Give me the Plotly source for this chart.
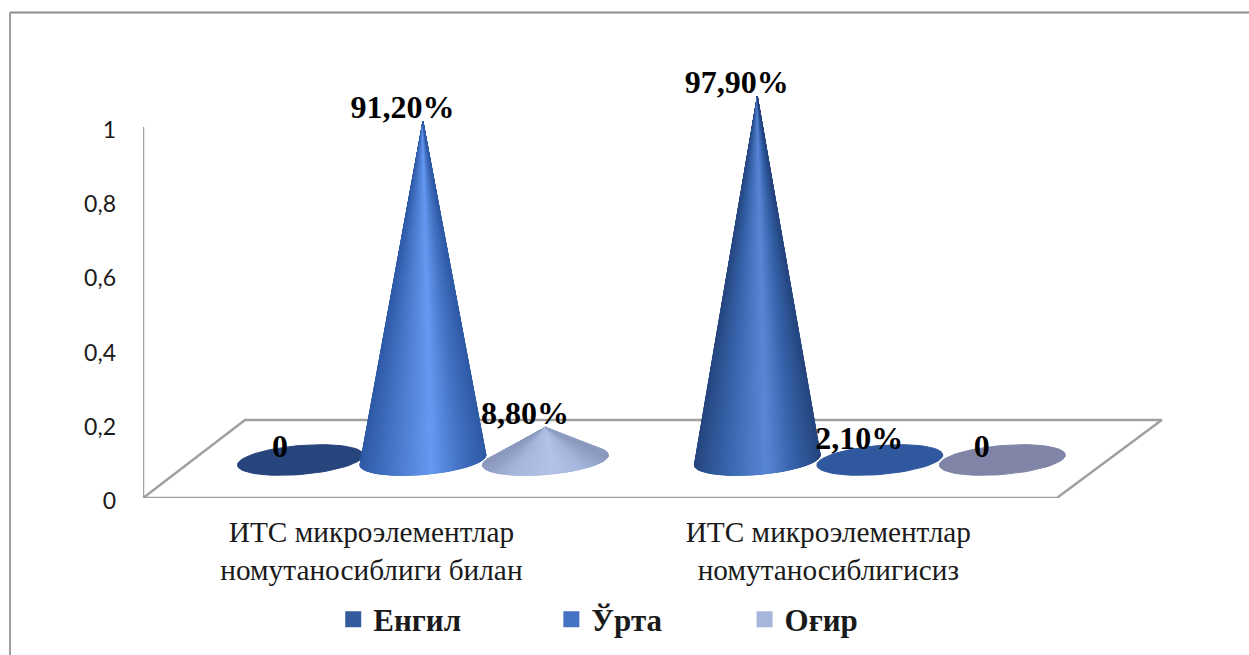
import math
import plotly.graph_objs as go

# Data
categories = ['ИТС микроэлементлар<br>номутаносиблиги билан',
              'ИТС микроэлементлар<br>номутаносиблигисиз']
series_names = ['Енгил', 'Ўрта', 'Оғир']
engil = [0, 0.979]
urta = [0.912, 0.021]
ogir = [0.088, 0]
label_engil = ['0', '97,90%']
label_urta = ['91,20%', '2,10%']
label_ogir = ['8,80%', '0']
y_ticks = [0, 0.2, 0.4, 0.6, 0.8, 1]
y_tick_labels = ['0', '0,2', '0,4', '0,6', '0,8', '1']

# Styles: edge, body, highlight of a cone / flat disc colour / legend colour
shades = [('#25467f', '#3561a8', '#5a86d6'),
          ('#2f5aa6', '#4472c4', '#6699f2'),
          ('#8b99bd', '#a5b5dc', '#b4c2e6')]
flat_colors = ['#27457c', '#30589f', '#8085a8']
legend_colors = ['#335b9e', '#4472c4', '#a6b5db']
legend_padding = [11, 10, 0]  # no-break spaces that space the legend entries out
GREY = '#a0a0a0'
SERIF = 'Liberation Serif'

# Pixel layout of the plot area
LEFT, RIGHT, TOP, BOTTOM = 143, 1171, 53, 498
W, H = 1249, 655
X_RANGE = [-0.5, 1.75]
Y_RANGE = [0, (BOTTOM - TOP) / 371]
PX = (X_RANGE[1] - X_RANGE[0]) / (RIGHT - LEFT)  # x units per pixel
PY = 1 / 371                                     # y units per pixel


def hex_rgb(c):
    return [int(c[i:i + 2], 16) for i in (1, 3, 5)]


def mix(a, b, k):
    ca, cb = hex_rgb(a), hex_rgb(b)
    return 'rgb(%d,%d,%d)' % tuple(round(p + (q - p) * k) for p, q in zip(ca, cb))


def shade(u, edge, body, light):
    # u runs from -1 (left edge of the cone) to 1 (right edge)
    if u < -0.55:
        return mix(edge, body, (u + 1) / 0.45)
    if u < 0.15:
        return mix(body, light, (u + 0.55) / 0.7)
    if u < 0.6:
        return mix(light, body, (u - 0.15) / 0.45)
    return mix(body, edge, (u - 0.6) / 0.4)


def polygon(xs, ys, color):
    return go.Scatter(x=xs, y=ys, mode='lines', fill='toself', fillcolor=color,
                      line=dict(color=color, width=1), showlegend=False,
                      hoverinfo='skip')


def rim(cx, cy, t):
    # point of the tilted base ellipse
    a, b, tilt = 63 * PX, 14.5 * PY, 5 * PY
    return cx + a * math.cos(t), cy + b * math.sin(t) + tilt * math.cos(t)


def cone(cx, value, style, flat):
    cy = 38 * PY
    ring = [rim(cx, cy, 2 * math.pi * i / 72) for i in range(73)]
    hb = 14.5 * PY
    if value < hb:
        return [polygon([p[0] for p in ring], [p[1] for p in ring], flat)]
    traces = [polygon([p[0] for p in ring], [p[1] for p in ring], style[1])]
    t0 = math.asin(hb / value)
    n = 60
    for i in range(n):
        t1 = math.pi - t0 + (math.pi + 2 * t0) * i / n
        t2 = math.pi - t0 + (math.pi + 2 * t0) * (i + 1) / n
        p1, p2 = rim(cx, cy, t1), rim(cx, cy, t2)
        color = shade(math.cos((t1 + t2) / 2), *style)
        traces.append(polygon([cx, p1[0], p2[0], cx], [cy + value, p1[1], p2[1], cy + value], color))
    return traces


values = [engil, urta, ogir]
labels = [label_engil, label_urta, label_ogir]
depth = 51.5 * PX        # cones stand further back than the category position
gap = 122.5 * PX         # distance between series in a group

data = []

# Floor and wall
back_x = 102 * PX
back_y = 78 * PY
data.append(go.Scatter(x=[X_RANGE[0], X_RANGE[0] + back_x, 1.5 + 105 * PX, 1.5, X_RANGE[0]],
                       y=[0, back_y, back_y, 0, 0], mode='lines',
                       line=dict(color=GREY, width=2.5), showlegend=False,
                       hoverinfo='skip', cliponaxis=False))
data.append(go.Scatter(x=[X_RANGE[0], X_RANGE[0]], y=[0, 1], mode='lines',
                       line=dict(color=GREY, width=2.5), showlegend=False,
                       hoverinfo='skip', cliponaxis=False))

# Cones, small ones first so the tall ones stay on top
for g in range(len(categories)):
    order = sorted(range(3), key=lambda s: values[s][g])
    for s in order:
        cx = g + depth + (s - 1) * gap
        data.extend(cone(cx, values[s][g], shades[s], flat_colors[s]))

# Data labels
for s in range(3):
    xs = [g + depth + (s - 1) * gap - 20.5 * PX for g in range(len(categories))]
    ys = [38 * PY + values[s][g] + 11.5 * PY for g in range(len(categories))]
    data.append(go.Scatter(x=xs, y=ys, mode='text', text=labels[s],
                           textposition='middle center',
                           textfont=dict(family=SERIF, size=32, color='black', weight='bold'),
                           showlegend=False, hoverinfo='skip', cliponaxis=False))

# Legend entries
for s in range(3):
    data.append(go.Scatter(x=[None], y=[None], mode='markers',
                           name=series_names[s] + '\u00a0' * legend_padding[s],
                           marker=dict(symbol='square', size=16, color=legend_colors[s])))

layout = go.Layout(
    width=W, height=H, autosize=False,
    margin=dict(l=LEFT, r=W - RIGHT, t=TOP, b=H - BOTTOM, autoexpand=False),
    paper_bgcolor='white', plot_bgcolor='white',
    xaxis=dict(range=X_RANGE, tickmode='array', tickvals=[0, 1], ticktext=categories,
               showgrid=False, zeroline=False, showline=False, ticks='', ticklabelstandoff=14,
               tickfont=dict(family=SERIF, size=29.3, color='#1a1a1a')),
    yaxis=dict(range=Y_RANGE, tickmode='array', tickvals=y_ticks, ticktext=y_tick_labels,
               showgrid=False, zeroline=False, showline=False, ticks='', ticklabelstandoff=26,
               ticklabelshift=3,
               tickfont=dict(family='Lato', size=23, color='#1a1a1a')),
    legend=dict(orientation='h', xref='container', yref='container', x=0.2668, y=0.013,
                xanchor='left', yanchor='bottom',
                font=dict(family=SERIF, size=31, color='#1a1a1a', weight='bold'),
                bgcolor='rgba(0,0,0,0)'),
    shapes=[
        dict(type='line', xref='paper', yref='paper', layer='below',
             x0=(10 - LEFT) / (RIGHT - LEFT), x1=(10 - LEFT) / (RIGHT - LEFT),
             y0=(BOTTOM - H) / (BOTTOM - TOP), y1=(BOTTOM - 12.5) / (BOTTOM - TOP),
             line=dict(color=GREY, width=2)),
        dict(type='line', xref='paper', yref='paper', layer='below',
             x0=(10 - LEFT) / (RIGHT - LEFT), x1=(W - LEFT) / (RIGHT - LEFT),
             y0=(BOTTOM - 12.5) / (BOTTOM - TOP), y1=(BOTTOM - 12.5) / (BOTTOM - TOP),
             line=dict(color='#8c8c8c', width=2)),
    ],
)

fig = go.Figure(data=data, layout=layout)
fig.write_html('out.html', config=dict(displayModeBar=False),
               post_script="document.body.style.margin='0';")
